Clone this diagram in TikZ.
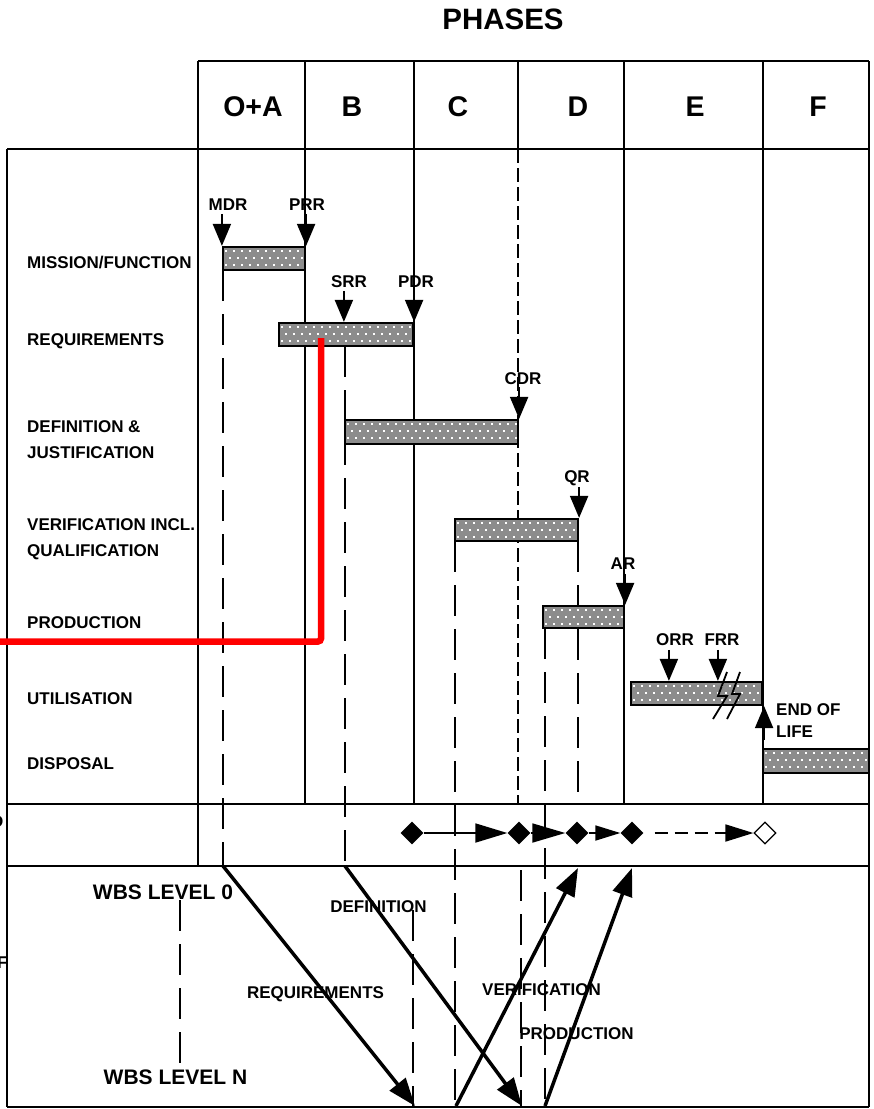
\documentclass[tikz,border=0pt]{standalone}
\usepackage{fontspec}
\setmainfont{Liberation Sans}
\usetikzlibrary{arrows.meta,shapes.geometric,calc}
\definecolor{barg}{RGB}{140,140,140}
\definecolor{redl}{RGB}{255,0,0}
\begin{document}
\begin{tikzpicture}[x=1pt,y=-1pt,
  frame/.style={line width=2.6pt},
  col/.style={line width=2pt},
  thincol/.style={line width=1.2pt},
  dsh/.style={line width=2.4pt, dash pattern=on 31pt off 13pt},
  thindsh/.style={line width=1.2pt, dash pattern=on 14pt off 5pt},
  lbl/.style={font=\bfseries\fontsize{17}{17}\selectfont, inner sep=0pt, text height=12.2pt, text depth=0pt},
  wbs/.style={font=\bfseries\fontsize{21}{21}\selectfont, inner sep=0pt, text height=15pt, text depth=0pt},
  hdr/.style={font=\bfseries\fontsize{28.5}{28.5}\selectfont, inner sep=0pt, anchor=base},
  gbar/.style={draw, line width=2.2pt, fill=barg, inner sep=0pt,
    path picture={\foreach \i in {0,...,22}{\foreach \j in {0,...,3}{
      \fill[white] ([shift={({\i*8+2+mod(\j,2)*4},{\j*7+3})}]path picture bounding box.north west) rectangle ++(1.9,1.9);}}}},
  mile/.style={line width=2pt, -{Triangle[length=22pt,width=18pt]}},
  dia/.style={diamond, fill=black, inner sep=0pt, minimum width=23pt, minimum height=23pt},
  odia/.style={diamond, draw, fill=white, line width=1.2pt, inner sep=0pt, minimum width=22pt, minimum height=22pt},
  flow/.style={line width=1.8pt},
  bigarr/.style={line width=3.5pt, -{Triangle[length=28pt,width=20pt]}}
]
\useasboundingbox (0,0) rectangle (874,1109);

% title and header
\node[font=\bfseries\fontsize{29.5}{29.5}\selectfont, inner sep=0pt, anchor=base] (title) at (503,29.3) {PHASES};
\node[hdr] (hOA) at (253,116) {O+A};
\node[hdr] (hB) at (352,116) {B};
\node[hdr] (hC) at (458,116) {C};
\node[hdr] (hD) at (578,116) {D};
\node[hdr] (hE) at (695,116) {E};
\node[hdr] (hF) at (818,116) {F};

% clipped texts at left edge (cut off in the reference too)
\node[font=\bfseries\fontsize{17}{17}\selectfont, inner sep=0pt, anchor=east] (cutD) at (3.5,822) {D};
\node[font=\bfseries\fontsize{17}{17}\selectfont, inner sep=0pt, anchor=west] (cutF) at (-3,963) {F};

% dashed lines (behind bars)
\draw[thincol] (518,61) -- (518,149);
\draw[thindsh] (518,149) -- (518,804);
\draw[dsh] (223,270) -- (223,866);
\draw[dsh] (345,346) -- (345,866);
\draw[dsh] (455,541) -- (455,1107);
\draw[dsh] (545,628) -- (545,1107);
\draw[dsh] (578,541) -- (578,804);
\draw[dsh] (413,910) -- (413,1107);
\draw[dsh] (521,870) -- (521,1107);
\draw[dsh] (180,900) -- (180,1068);

% grid
\draw[frame] (198,61) -- (869,61);
\draw[frame] (7,149) -- (869,149);
\draw[frame] (7,804) -- (869,804);
\draw[frame] (7,866) -- (869,866);
\draw[frame] (7,1107) -- (869,1107);
\draw[frame] (7,149) -- (7,1107);
\draw[frame] (869,61) -- (869,1107);
\draw[col] (198,61) -- (198,866);
\draw[col] (305,61) -- (305,804);
\draw[col] (414,61) -- (414,804);
\draw[col] (624,61) -- (624,804);
\draw[col] (763,61) -- (763,804);

% row labels
\node[lbl, anchor=west] (rMF) at (27,262) {MISSION/FUNCTION};
\node[lbl, anchor=west] (rRQ) at (27,339) {REQUIREMENTS};
\node[lbl, anchor=west] (rDJ1) at (27,426) {DEFINITION \&};
\node[lbl, anchor=west] (rDJ2) at (27,452) {JUSTIFICATION};
\node[lbl, anchor=west] (rVQ1) at (27,524) {VERIFICATION INCL.};
\node[lbl, anchor=west] (rVQ2) at (27,550) {QUALIFICATION};
\node[lbl, anchor=west] (rPR) at (27,622) {PRODUCTION};
\node[lbl, anchor=west] (rUT) at (27,698) {UTILISATION};
\node[lbl, anchor=west] (rDS) at (27,763) {DISPOSAL};

% bars
\node[gbar, minimum width=82pt, minimum height=23pt] (b1) at (264,258.5) {};
\node[gbar, minimum width=134pt, minimum height=23pt] (b2) at (346,334.5) {};
\node[gbar, minimum width=173pt, minimum height=24pt] (b3) at (431.5,432) {};
\node[gbar, minimum width=123pt, minimum height=22pt] (b4) at (516.5,530) {};
\node[gbar, minimum width=81pt, minimum height=22pt] (b5) at (583.5,617) {};
\node[gbar, minimum width=131pt, minimum height=23pt] (b6) at (696.5,693.5) {};
\node[gbar, minimum width=106pt, minimum height=24pt] (b7) at (816,761) {};

% milestone labels
\node[lbl] (mMDR) at (228,204) {MDR};
\node[lbl] (mPRR) at (307,204) {PRR};
\node[lbl] (mSRR) at (349,281) {SRR};
\node[lbl] (mPDR) at (416,281) {PDR};
\node[lbl] (mCDR) at (523,378.5) {CDR};
\node[lbl] (mQR) at (577,476) {QR};
\node[lbl] (mAR) at (623,563) {AR};
\node[lbl] (mORR) at (675,639) {ORR};
\node[lbl] (mFRR) at (722,639) {FRR};
\node[lbl, anchor=west] (mEOL1) at (776,709.5) {END OF};
\node[lbl, anchor=west] (mEOL2) at (776,731) {LIFE};

% milestone arrows
\draw[mile] ($(b1.north west)+(0,-32)$) -- (b1.north west);
\draw[mile] ($(b1.north east)+(0,-32)$) -- (b1.north east);
\draw[mile] ($(b2.north west)+(66,-31)$) -- ($(b2.north west)+(66,0)$);
\draw[mile] ($(b2.north east)+(0,-31)$) -- (b2.north east);
\draw[mile] ($(b3.north east)+(0,-32)$) -- (b3.north east);
\draw[mile] ($(b4.north east)+(0,-31)$) -- (b4.north east);
\draw[mile] ($(b5.north east)+(0,-31)$) -- (b5.north east);
\draw[mile] ($(b6.north west)+(39,-31)$) -- ($(b6.north west)+(39,0)$);
\draw[mile] ($(b6.north west)+(88,-31)$) -- ($(b6.north west)+(88,0)$);
\draw[mile] ($(b6.south east)+(1,34)$) -- ($(b6.south east)+(1,0)$);

% break mark on utilisation bar
\draw[line width=1.8pt, line join=miter] (727,672) -- (718,696) -- (727,696) -- (713,719);
\draw[line width=1.8pt, line join=miter] (740,672) -- (732,694) -- (740,694) -- (727,719);

% milestone diamonds row
\node[dia] (d1) at (412,833) {};
\node[dia] (d2) at (519,833) {};
\node[dia] (d3) at (577,833) {};
\node[dia] (d4) at (632,833) {};
\node[odia] (d5) at (765,833) {};
\draw[flow, -{Triangle[length=32pt,width=19pt]}] (d1.east) -- (d2.west);
\draw[flow, -{Triangle[length=33pt,width=19pt]}] (d2.east) -- (d3.west);
\draw[flow, -{Triangle[length=25pt,width=15pt]}] (d3.east) -- (d4.west);
\draw[flow, dash pattern=on 13pt off 7pt, shorten <=11pt, -{Triangle[length=28pt,width=17pt]}] (d4.east) -- (d5.west);

% bottom section
\node[wbs] (w0) at (163,892) {WBS LEVEL 0};
\node[wbs] (wN) at (175.5,1076.5) {WBS LEVEL N};
\node[lbl] (tDef) at (378.5,906) {DEFINITION};
\node[lbl] (tReq) at (315.5,992) {REQUIREMENTS};
\node[lbl] (tVer) at (541.5,989) {VERIFICATION};
\node[lbl] (tPro) at (576.5,1033) {PRODUCTION};

\coordinate (rqs) at (223,866);
\coordinate (rqe) at (415,1106);
\coordinate (dfs) at (345,866);
\coordinate (dfe) at (522,1106);
\coordinate (vfs) at (456,1106);
\coordinate (vfe) at (578,868);
\coordinate (pds) at (545,1106);
\coordinate (pde) at (632,868);
\draw[bigarr] (rqs) -- (rqe);
\draw[bigarr] (dfs) -- (dfe);
\draw[bigarr] (vfs) -- (vfe);
\draw[bigarr] (pds) -- (pde);

% red line
\coordinate (redA) at (-5,641.5);
\coordinate (redB) at (321,641.5);
\coordinate (redC) at (321,338);
\draw[redl, line width=6.5pt, rounded corners=3pt] (redA) -- (redB) -- (redC);
\end{tikzpicture}
\end{document}
